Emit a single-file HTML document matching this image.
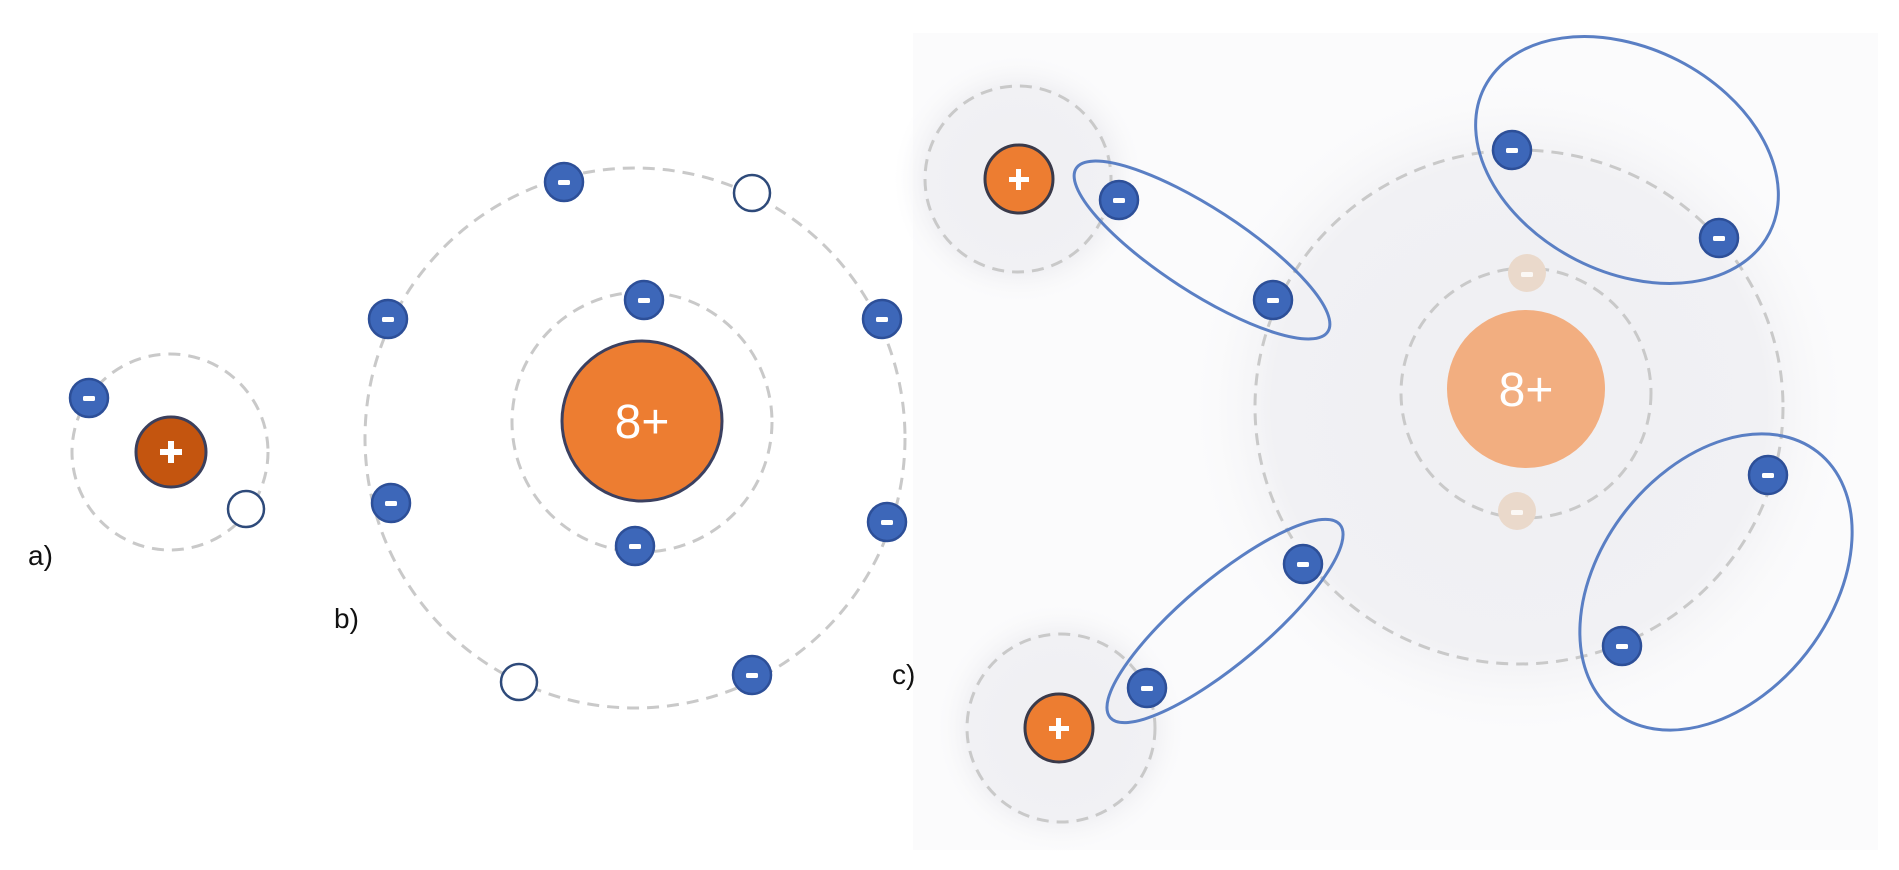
<!DOCTYPE html>
<html><head><meta charset="utf-8"><style>
html,body{margin:0;padding:0;background:#fff;}
svg{display:block;}
text{font-family:"Liberation Sans",sans-serif;}
</style></head><body>
<svg width="1899" height="870" viewBox="0 0 1899 870" xmlns="http://www.w3.org/2000/svg">
<defs>
<radialGradient id="halo" cx="50%" cy="50%" r="50%">
<stop offset="0" stop-color="#efeff2"/><stop offset="0.75" stop-color="#f1f1f4"/><stop offset="1" stop-color="#fafafb" stop-opacity="0"/>
</radialGradient>
<g id="e"><circle r="19" fill="#3d67b9" stroke="#2d4f98" stroke-width="2.5"/><rect x="-6" y="-2" width="12" height="5" rx="1.5" fill="#fff"/></g>
<g id="p"><circle r="19" fill="#ead9cb"/><rect x="-6" y="-1" width="12" height="5" rx="1.5" fill="#fff" opacity="0.8"/></g>
<g id="o"><circle r="18" fill="#fff" stroke="#2e4a7a" stroke-width="2.5"/></g>
</defs>
<rect x="0" y="0" width="1899" height="870" fill="#fff"/>
<rect x="913" y="33" width="965" height="817" fill="#fbfbfc"/>
<circle cx="1519" cy="407" r="330" fill="url(#halo)"/>
<circle cx="1019" cy="179" r="125" fill="url(#halo)"/>
<circle cx="1061" cy="728" r="125" fill="url(#halo)"/>

<g fill="none" stroke="#c9c9c9" stroke-width="3" stroke-dasharray="12 8">
<circle cx="170" cy="452" r="98"/>
<circle cx="642" cy="422" r="130"/>
<circle cx="635" cy="438" r="270"/>
<circle cx="1018" cy="179" r="93"/>
<circle cx="1061" cy="728" r="94"/>
<circle cx="1526" cy="393" r="125"/>
<ellipse cx="1519" cy="407" rx="264" ry="257"/>
</g>

<circle cx="171" cy="452" r="35" fill="#c4550f" stroke="#3b3f5c" stroke-width="3"/>
<rect x="160" y="449" width="22" height="6" fill="#fff"/><rect x="168" y="441" width="6" height="22" fill="#fff"/>
<use href="#e" x="89" y="398"/>
<use href="#o" x="246" y="509"/>
<text x="28" y="565" font-size="28" fill="#111">a)</text>

<circle cx="642" cy="421" r="80" fill="#ed7d31" stroke="#3b4060" stroke-width="3"/>
<text x="642" y="438" font-size="48" fill="#fff" text-anchor="middle">8+</text>
<use href="#e" x="564" y="182"/><use href="#o" x="752" y="193"/>
<use href="#e" x="644" y="300"/><use href="#e" x="388" y="319"/>
<use href="#e" x="882" y="319"/><use href="#e" x="391" y="503"/>
<use href="#e" x="887" y="522"/><use href="#e" x="635" y="546"/>
<use href="#o" x="519" y="682"/><use href="#e" x="752" y="675"/>
<text x="334" y="628" font-size="28" fill="#111">b)</text>
<text x="892" y="684" font-size="28" fill="#111">c)</text>

<circle cx="1019" cy="179" r="34" fill="#ed7d31" stroke="#3a3a4a" stroke-width="3"/>
<rect x="1009" y="177" width="20" height="5" fill="#fff"/><rect x="1016" y="169" width="5" height="21" fill="#fff"/>
<circle cx="1059" cy="728" r="34" fill="#ed7d31" stroke="#3a3a4a" stroke-width="3"/>
<rect x="1049" y="726" width="20" height="5" fill="#fff"/><rect x="1056" y="718" width="5" height="21" fill="#fff"/>
<circle cx="1526" cy="389" r="79" fill="#f2ae80"/>
<text x="1526" y="406" font-size="48" fill="#fff" text-anchor="middle">8+</text>
<use href="#p" x="1527" y="273"/><use href="#p" x="1517" y="511"/>

<g fill="none" stroke="#5a7fc4" stroke-width="3">
<ellipse cx="1202" cy="250" rx="150" ry="42" transform="rotate(33 1202 250)"/>
<ellipse cx="1627" cy="160" rx="160" ry="112" transform="rotate(27 1627 160)"/>
<ellipse cx="1716" cy="582" rx="165" ry="115" transform="rotate(-52 1716 582)"/>
<ellipse cx="1225" cy="621" rx="150" ry="42" transform="rotate(-40 1225 621)"/>
</g>
<use href="#e" x="1119" y="200"/><use href="#e" x="1273" y="300"/>
<use href="#e" x="1512" y="150"/><use href="#e" x="1719" y="238"/>
<use href="#e" x="1768" y="475"/><use href="#e" x="1622" y="646"/>
<use href="#e" x="1303" y="564"/><use href="#e" x="1147" y="688"/>
</svg>
</body></html>
